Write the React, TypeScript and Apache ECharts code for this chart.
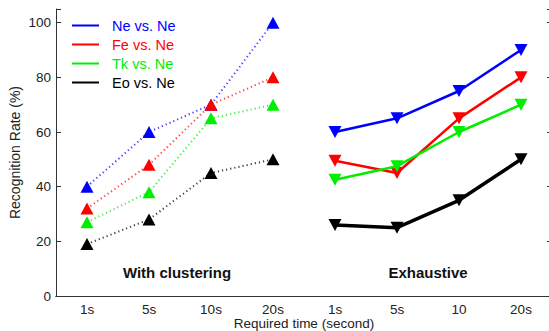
import React, { useEffect, useRef } from "react";
import * as echarts from "echarts";

const categories = ["1s", "5s", "10s", "20s", "1s", "5s", "10", "20s"];
const seriesNames = ["Ne vs. Ne", "Fe vs. Ne", "Tk vs. Ne", "Eo vs. Ne"];
const seriesColors = ["#0000ff", "#ff0000", "#00ee00", "#000000"];
const clusterNe = [40, 60, 70, 100];
const clusterFe = [32, 48, 70, 80];
const clusterTk = [27, 38, 65, 70];
const clusterEo = [19, 28, 45, 50];
const exhaustNe = [60, 65, 75, 90];
const exhaustFe = [49.5, 45, 65, 80];
const exhaustTk = [42.5, 47.5, 60, 70];
const exhaustEo = [26, 25, 35, 50];
const yTicks = [0, 20, 40, 60, 80, 100];

const FONT = "'Liberation Sans', Arial, Helvetica, sans-serif";

export default function App() {
  const ref = useRef<HTMLDivElement>(null);
  useEffect(() => {
    if (!ref.current) return;
    const chart = echarts.init(ref.current, undefined, { renderer: "svg" });
    const cluster = [clusterNe, clusterFe, clusterTk, clusterEo];
    const exhaust = [exhaustNe, exhaustFe, exhaustTk, exhaustEo];
    const series: any[] = [];
    cluster.forEach((vals, s) => {
      series.push({
        type: "line",
        name: seriesNames[s],
        data: vals.map((v, i) => [i, v]),
        symbol: "triangle",
        symbolSize: [13, 12],
        itemStyle: { color: seriesColors[s], opacity: 1 },
        lineStyle: { color: seriesColors[s], width: 2, type: [1.2, 3], opacity: 0.75 },
        z: 2 + s,
      });
    });
    exhaust.forEach((vals, s) => {
      series.push({
        type: "line",
        name: seriesNames[s],
        data: vals.map((v, i) => [i + 4, v]),
        symbol: "triangle",
        symbolRotate: 180,
        symbolSize: [13, 12],
        itemStyle: { color: seriesColors[s] },
        lineStyle: { color: seriesColors[s], width: s === 3 ? 3.5 : 2.5 },
        z: 2 + s,
      });
    });
    const axisLineStyle = { color: "#333", width: 1 };
    chart.setOption({
      animation: false,
      backgroundColor: "#fff",
      textStyle: { fontFamily: FONT },
      grid: { left: 56, top: 9, width: 496, height: 287, outerBoundsMode: "none", containLabel: false },
      legend: {
        orient: "vertical",
        left: 72,
        top: 18,
        padding: 0,
        icon: "rect",
        itemWidth: 27,
        itemHeight: 2,
        itemGap: 4,
        textStyle: { fontFamily: FONT, fontSize: 14.5, lineHeight: 14, padding: [0, 0, 0, 8] },
        data: seriesNames.map((n, i) => ({ name: n, textStyle: { color: seriesColors[i] } })),
        selectedMode: false,
      },
      xAxis: [
        {
          type: "category",
          data: categories.map((_, i) => String(i)),
          boundaryGap: true,
          axisLine: { lineStyle: axisLineStyle },
          axisTick: { inside: true, alignWithLabel: true, length: 5, lineStyle: axisLineStyle },
          axisLabel: {
            formatter: (v: string) => categories[Number(v)],
            fontSize: 13.5,
            lineHeight: 14,
            color: "#222",
            margin: 6,
            fontFamily: FONT,
          },
          name: "Required time (second)",
          nameLocation: "middle",
          nameGap: 21,
          nameMoveOverlap: false,
          nameTextStyle: { fontSize: 13.5, lineHeight: 13, color: "#222", fontFamily: FONT },
        },
        {
          type: "category",
          position: "top",
          data: categories.map((_, i) => String(i)),
          boundaryGap: true,
          axisLine: { lineStyle: axisLineStyle },
          axisTick: { inside: true, alignWithLabel: true, length: 5, lineStyle: axisLineStyle },
          axisLabel: { show: false },
        },
      ],
      yAxis: [
        {
          type: "value",
          min: 0,
          max: 105,
          interval: 20,
          axisLine: { show: true, lineStyle: axisLineStyle },
          axisTick: { show: true, inside: true, length: 5, lineStyle: axisLineStyle },
          splitLine: { show: false },
          axisLabel: {
            fontSize: 13.5,
            color: "#222",
            margin: 5,
            fontFamily: FONT,
            formatter: (v: number) => (yTicks.includes(v) ? String(v) : ""),
          },
          name: "Recognition Rate (%)",
          nameLocation: "middle",
          nameGap: 34,
          nameMoveOverlap: false,
          nameTextStyle: { fontSize: 14, color: "#222", fontFamily: FONT },
        },
        {
          type: "value",
          position: "right",
          min: 0,
          max: 105,
          interval: 20,
          axisLine: { show: true, lineStyle: axisLineStyle },
          axisTick: { show: true, inside: true, length: 5, lineStyle: axisLineStyle },
          splitLine: { show: false },
          axisLabel: { show: false },
        },
      ],
      graphic: [
        {
          type: "text",
          x: 177,
          y: 272,
          style: {
            text: "With clustering",
            font: `bold 15px ${FONT}`,
            fill: "#111",
            textAlign: "center",
            textVerticalAlign: "middle",
          },
        },
        {
          type: "text",
          x: 428,
          y: 272,
          style: {
            text: "Exhaustive",
            font: `bold 15px ${FONT}`,
            fill: "#111",
            textAlign: "center",
            textVerticalAlign: "middle",
          },
        },
      ],
      series,
    });
    return () => chart.dispose();
  }, []);
  return (
    <div
      ref={ref}
      style={{ position: "absolute", left: 0, top: 0, width: 549, height: 331, overflow: "hidden" }}
    />
  );
}
